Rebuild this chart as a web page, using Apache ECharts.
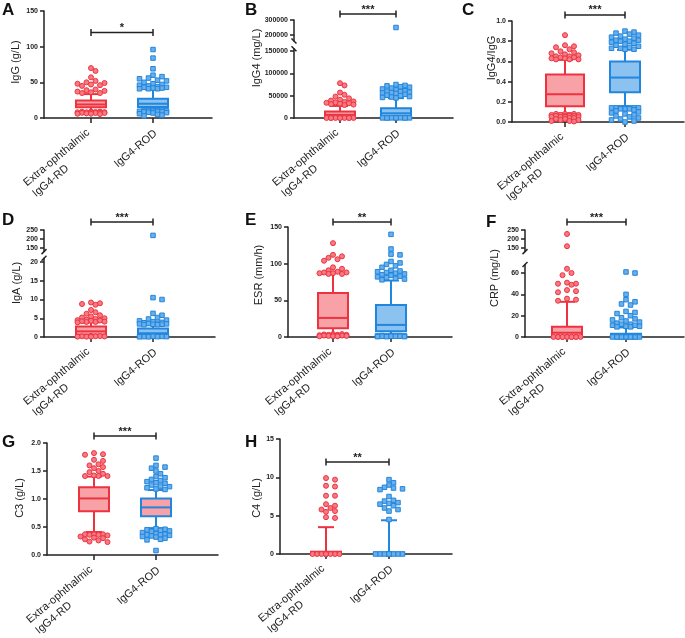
<!DOCTYPE html>
<html><head><meta charset="utf-8">
<script src="https://cdn.jsdelivr.net/npm/echarts@6/dist/echarts.min.js"></script>
<style>html,body{margin:0;padding:0;background:#fff}#c{width:685px;height:638px}</style>
</head><body><div id="c"></div>
<script>
// ---------------- DATA ----------------
const categories = ['Extra-ophthalmic\nIgG4-RD', 'IgG4-ROD'];
// box stats per group: [lower whisker, Q1, median, Q3, upper whisker]
const iggBox  = [[9.5, 15, 19, 24.5, 33.5], [10, 15.5, 20, 27, 40]];
const igg4Box = [[500, 2500, 7000, 14500, 27000], [800, 4000, 10500, 22000, 44500]];
const ratioBox = [[0.085, 0.155, 0.275, 0.47, 0.615], [0.145, 0.295, 0.44, 0.60, 0.715]];
const igaBox  = [[0.3, 0.6, 1.5, 2.8, 3.9], [0.2, 0.4, 1.0, 2.3, 3.2]];
const esrBox  = [[3, 12, 26, 60, 89], [2, 8, 16.5, 43.5, 77]];
const crpBox  = [[0.3, 0.8, 4, 9.5, 33], [0.1, 0.3, 1, 3, 9]];
const c3Box   = [[0.41, 0.78, 1.01, 1.21, 1.40], [0.48, 0.69, 0.85, 1.01, 1.16]];
const c4Box   = [[0, 0.05, 0.1, 0.3, 3.5], [0, 0.02, 0.05, 0.2, 4.4]];

// individual points shown outside the whiskers
const iggRD  = [70, 66, 57, 52, 50, 49, 48, 47, 46, 45, 40, 39, 38, 37, 36, 35, 35, 9, 9, 8.8, 8.5, 8.2, 8, 8, 7.8, 7.5, 7.2, 7, 7, 6.5, 6, 6, 5.5];
const iggROD = [96, 84, 69, 60, 58, 56, 55, 53, 52, 50, 48, 47, 46, 45, 44, 43, 43, 42, 42, 41, 41, 41, 11, 11, 10.5, 10.5, 10, 10, 9.5, 9.5, 9, 9, 8.5, 8, 7.5, 7, 6, 5, 4, 3];
const igg4RD  = [78000, 73000, 57000, 52000, 48000, 44000, 41000, 39000, 37000, 36000, 35000, 34000, 33000, 32000, 31000, 30000, 29000, 400, 300, 300, 200, 200, 150, 100, 100, 100, 50];
const igg4ROD = [250000, 75000, 73000, 72000, 70000, 69000, 67000, 65000, 63000, 61000, 60000, 59000, 58000, 57000, 56000, 55000, 53000, 51000, 50000, 48000, 47000, 46000, 45000, 700, 600, 500, 400, 300, 300, 200, 200, 100, 100];
const ratioRD  = [0.86, 0.76, 0.75, 0.74, 0.72, 0.70, 0.69, 0.68, 0.67, 0.66, 0.65, 0.65, 0.64, 0.64, 0.63, 0.63, 0.62, 0.62, 0.62, 0.08, 0.08, 0.08, 0.07, 0.07, 0.07, 0.07, 0.06, 0.06, 0.06, 0.06, 0.05, 0.05, 0.05, 0.05, 0.04, 0.04, 0.03, 0.03, 0.02, 0.02, 0.01, 0.01, 0.005];
const ratioROD = [0.90, 0.89, 0.88, 0.87, 0.86, 0.85, 0.84, 0.83, 0.82, 0.81, 0.81, 0.80, 0.80, 0.79, 0.78, 0.77, 0.76, 0.75, 0.74, 0.73, 0.73, 0.72, 0.72, 0.14, 0.14, 0.14, 0.14, 0.14, 0.14, 0.14, 0.14, 0.14, 0.14, 0.13, 0.13, 0.13, 0.12, 0.11, 0.10, 0.09, 0.08, 0.07, 0.06, 0.05, 0.04, 0.03, 0.02, 0.01, 0.0];
const igaRD  = [9.2, 9.0, 8.8, 8.6, 7.2, 6.6, 6.2, 5.8, 5.5, 5.2, 5.0, 4.8, 4.6, 4.5, 4.4, 4.3, 4.2, 4.1, 4.0, 4.0, 3.9, 0.3, 0.25, 0.2, 0.2, 0.15, 0.1, 0.1, 0.1];
const igaROD = [220, 10.5, 10.0, 6.3, 5.8, 5.2, 4.8, 4.5, 4.3, 4.1, 3.9, 3.8, 3.7, 3.6, 3.5, 3.5, 3.4, 3.4, 3.3, 3.3, 0.2, 0.15, 0.1, 0.1, 0.1, 0.05, 0.05];
const esrRD  = [128, 112, 110, 108, 106, 104, 95, 93, 91, 89, 88, 88, 87, 87, 86, 86, 4, 4, 3.5, 3, 3, 3, 2.5, 2.5, 2, 2, 2, 1.5, 1.5, 1, 1, 1];
const esrROD = [140, 120, 113, 112, 103, 101, 99, 97, 95, 91, 90, 89, 88, 87, 86, 85, 84, 83, 82, 81, 80, 79, 78, 2, 2, 2, 2, 1.5, 1.5, 1.5, 1, 1, 1, 1, 0.5, 0.5, 0.5];
const crpRD  = [228, 160, 64, 60, 58, 51, 50, 50, 49, 44, 43, 42, 36, 35, 34, 0.2, 0.2, 0.2, 0.1, 0.1, 0.1, 0.1, 0.05, 0.05, 0.05, 0.02, 0.02];
const crpROD = [61, 60, 40, 35, 33, 31, 30, 24, 23, 22, 20, 18, 17, 16, 15, 14, 13, 12, 12, 11, 11, 10, 10, 9.5, 9.5, 0.05, 0.05, 0.05, 0.04, 0.04, 0.03, 0.03, 0.02, 0.02, 0.01, 0.01, 0.01];
const c3RD  = [1.82, 1.80, 1.79, 1.70, 1.68, 1.62, 1.60, 1.57, 1.55, 1.50, 1.48, 1.45, 1.42, 1.41, 1.41, 1.41, 0.37, 0.37, 0.37, 0.36, 0.36, 0.35, 0.33, 0.31, 0.30, 0.28, 0.26, 0.24, 0.23];
const c3ROD = [1.73, 1.60, 1.57, 1.55, 1.50, 1.45, 1.40, 1.38, 1.35, 1.33, 1.31, 1.29, 1.28, 1.25, 1.23, 1.22, 1.20, 1.18, 1.17, 0.47, 0.46, 0.45, 0.44, 0.43, 0.42, 0.40, 0.38, 0.37, 0.36, 0.36, 0.35, 0.34, 0.33, 0.32, 0.30, 0.28, 0.27, 0.08];
const c4RD  = [9.9, 9.7, 8.9, 8.8, 7.6, 7.6, 6.5, 6.3, 6.0, 5.8, 5.6, 5.5, 4.8, 4.7, 0, 0, 0, 0, 0, 0, 0, 0, 0, 0, 0, 0];
const c4ROD = [9.7, 9.3, 9.0, 8.7, 8.6, 8.5, 8.4, 7.5, 7.0, 6.9, 6.7, 6.6, 6.5, 6.3, 6.0, 5.8, 5.6, 4.5, 0, 0, 0, 0, 0, 0, 0, 0, 0, 0, 0, 0, 0, 0];

// tick labels
const iggTicks = [0, 50, 100, 150];
const igg4TicksLow = [0, 50000, 100000, 150000];
const igg4TicksHigh = [200000, 300000];
const ratioTicks = [0, 0.2, 0.4, 0.6, 0.8, 1.0];
const igaTicksLow = [0, 5, 10, 15, 20];
const igaTicksHigh = [150, 200, 250];
const esrTicks = [0, 50, 100, 150];
const crpTicksLow = [0, 20, 40, 60];
const crpTicksHigh = [150, 200, 250];
const c3Ticks = [0, 0.5, 1.0, 1.5, 2.0];
const c4Ticks = [0, 5, 10, 15];

const yNames = ['IgG (g/L)', 'IgG4 (mg/L)', 'IgG4/IgG', 'IgA (g/L)', 'ESR (mm/h)', 'CRP (mg/L)', 'C3 (g/L)', 'C4 (g/L)'];
const sigLabels = ['*', '***', '***', '***', '**', '***', '***', '**'];

// ---------------- LAYOUT ----------------
const FONT = '"Liberation Sans", Arial, Helvetica, sans-serif';
const RED = '#ee3340', RED_FILL = '#f8a1a7', RED_PT = '#f57a84';
const BLUE = '#2186dd', BLUE_FILL = '#8cc2f0', BLUE_PT = '#6aaeea';
const AX = '#222';

const panels = [
  {letter:'A', L:[2,2], box:iggBox, pts:[iggRD, iggROD], ax:44, xe:212, c:[91,153], name:[16,62], sigY:120,
   segs:[{min:0,max:150,top:11,bottom:118,ticks:iggTicks,dec:0}]},
  {letter:'B', L:[245,2], box:igg4Box, pts:[igg4RD, igg4ROD], ax:294, xe:453, c:[340,396], name:[257,58], sigY:340000,
   segs:[{min:160000,max:300000,top:20,bottom:41,ticks:igg4TicksHigh,dec:0},{min:0,max:155000,top:48.8,bottom:118,ticks:igg4TicksLow,dec:0}], brk:'\\'},
  {letter:'C', L:[462,2], box:ratioBox, pts:[ratioRD, ratioROD], ax:512, xe:684, c:[565,625], name:[492,58], sigY:1.06, boxHalf:[19,15],
   segs:[{min:0,max:1,top:21,bottom:122,ticks:ratioTicks,dec:1}]},
  {letter:'D', L:[2,212], box:igaBox, pts:[igaRD, igaROD], ax:44, xe:215, c:[91,153], name:[17,283], sigY:294,
   segs:[{min:130,max:250,top:230,bottom:251.6,ticks:igaTicksHigh,dec:0},{min:0,max:21,top:258.25,bottom:337,ticks:igaTicksLow,dec:0}], brk:'/'},
  {letter:'E', L:[245,212], box:esrBox, pts:[esrRD, esrROD], ax:288, xe:452, c:[333,391], name:[259,275], sigY:156.8,
   segs:[{min:0,max:150,top:227,bottom:337,ticks:esrTicks,dec:0}]},
  {letter:'F', L:[486,214], box:crpBox, pts:[crpRD, crpROD], ax:525, xe:684, c:[567,626], name:[495,278], sigY:294,
   segs:[{min:130,max:250,top:230,bottom:251.6,ticks:crpTicksHigh,dec:0},{min:0,max:68,top:264.5,bottom:337,ticks:crpTicksLow,dec:0}], brk:'/'},
  {letter:'G', L:[2,434], box:c3Box, pts:[c3RD, c3ROD], ax:47, xe:218, c:[94,156], name:[20,498], sigY:2.125, rodFill:RED_FILL,
   segs:[{min:0,max:2,top:443,bottom:555,ticks:c3Ticks,dec:1}]},
  {letter:'H', L:[245,434], box:c4Box, pts:[c4RD, c4ROD], ax:280, xe:452, c:[326,389], name:[257,498], sigY:12,
   segs:[{min:0,max:15,top:439,bottom:554,ticks:c4Ticks,dec:0}]}
];

const SYM = 5, HALFW = 15, BOX_HALF = 15, CAP_HALF = 8;

function swarm(vals, pxPerUnit) {
  const order = vals.map((v, i) => i).sort((a, b) => vals[b] - vals[a]);
  const placed = [], off = new Array(vals.length);
  const step = SYM * 0.9;
  const cands = [0];
  for (let k = 1; k * step <= HALFW; k++) cands.push(k * step, -k * step);
  order.forEach(i => {
    const py = vals[i] * pxPerUnit;
    let best = 0, bestScore = -Infinity;
    for (const c of cands) {
      let md = Infinity;
      for (const p of placed) { const d = Math.hypot(p[0] - c, p[1] - py); if (d < md) md = d; }
      if (md >= SYM) { best = c; break; }
      if (md > bestScore) { bestScore = md; best = c; }
    }
    placed.push([best, py]); off[i] = best;
  });
  return off;
}

const grid = [], xAxis = [], yAxis = [], series = [], graphic = [];

function fmt(v, dec) { return dec ? v.toFixed(dec) : String(v); }

panels.forEach((p, pi) => {
  const span = p.c[1] - p.c[0];
  const xmin = 1 - (p.c[0] - p.ax) / span, xmax = 2 + (p.xe - p.c[1]) / span;
  const segIdx = [];
  p.segs.forEach((s, si) => {
    const isBottom = si === p.segs.length - 1;
    const gi = grid.length;
    grid.push({left: p.ax, top: s.top, width: p.xe - p.ax, height: s.bottom - s.top, containLabel: false, outerBoundsMode: 'none'});
    xAxis.push({gridIndex: gi, type: 'value', min: xmin, max: xmax,
      axisLine: {show: isBottom, onZero: false, lineStyle: {color: AX, width: 1.5}},
      axisTick: {show: isBottom, customValues: [1, 2], length: 5, lineStyle: {color: AX, width: 1.5}},
      axisLabel: {show: isBottom, customValues: [1, 2], rotate: 40, margin: 11, color: AX, fontSize: 11, fontFamily: FONT,
        formatter: v => {
          const lines = categories[v - 1].split('\n');
          return lines.length > 1 ? ['{w| }'].concat(lines.map(t => '{w|' + t + '}')).join('\n') : '{n|' + lines[0] + '}';
        },
        rich: {w: {width: 86, align: 'left', fontSize: 11, fontFamily: FONT, color: AX, lineHeight: 14},
               n: {fontSize: 11, fontFamily: FONT, color: AX, lineHeight: 14, padding: [8, 0, 0, 0]}}},
      splitLine: {show: false}});
    yAxis.push({gridIndex: gi, type: 'value', min: s.min, max: s.max,
      axisLine: {show: true, onZero: false, lineStyle: {color: AX, width: 1.5}},
      axisTick: {show: true, customValues: s.ticks, length: 4, lineStyle: {color: AX, width: 1.5}},
      axisLabel: {customValues: s.ticks, margin: 6, color: AX, fontSize: 7, fontWeight: 'bold', fontFamily: FONT,
        formatter: v => fmt(v, s.dec)},
      splitLine: {show: false}});
    segIdx.push(gi);
  });
  const bottomGi = segIdx[segIdx.length - 1], topGi = segIdx[0];
  const colors = [[RED, RED_FILL], [BLUE, p.rodFill || BLUE_FILL]];
  const halves = p.boxHalf || [BOX_HALF, BOX_HALF];
  // boxes
  series.push({type: 'custom', xAxisIndex: bottomGi, yAxisIndex: bottomGi, z: 2, clip: false,
    encode: {x: 0, y: [1, 2, 3, 4, 5]},
    data: p.box.map((b, k) => [k + 1, ...b]),
    renderItem: (params, api) => {
      const x = api.value(0);
      const [cx, yLo] = api.coord([x, api.value(1)]);
      const yQ1 = api.coord([x, api.value(2)])[1], yMd = api.coord([x, api.value(3)])[1];
      const yQ3 = api.coord([x, api.value(4)])[1], yHi = api.coord([x, api.value(5)])[1];
      const [col, fill] = colors[params.dataIndex];
      const hb = halves[params.dataIndex];
      const st = {stroke: col, lineWidth: 2};
      return {type: 'group', children: [
        {type: 'line', shape: {x1: cx, y1: yHi, x2: cx, y2: yQ3}, style: st},
        {type: 'line', shape: {x1: cx, y1: yQ1, x2: cx, y2: yLo}, style: st},
        {type: 'line', shape: {x1: cx - CAP_HALF, y1: yHi, x2: cx + CAP_HALF, y2: yHi}, style: st},
        {type: 'line', shape: {x1: cx - CAP_HALF, y1: yLo, x2: cx + CAP_HALF, y2: yLo}, style: st},
        {type: 'rect', shape: {x: cx - hb, y: yQ3, width: 2 * hb, height: Math.max(yQ1 - yQ3, 1.5)}, style: {fill: fill, stroke: col, lineWidth: 2}},
        {type: 'line', shape: {x1: cx - hb, y1: yMd, x2: cx + hb, y2: yMd}, style: st}
      ]};
    }});
  // points
  p.pts.forEach((vals, g) => {
    p.segs.forEach((s, si) => {
      const isBottom = si === p.segs.length - 1;
      const inSeg = vals.filter(v => isBottom ? v <= s.max : (v > p.segs[p.segs.length - 1].max));
      if (!inSeg.length) return;
      const ppu = (s.bottom - s.top) / (s.max - s.min);
      const off = swarm(inSeg.map(v => v - s.min), ppu);
      series.push({type: 'scatter', xAxisIndex: segIdx[si], yAxisIndex: segIdx[si], z: 3, clip: false,
        symbol: g === 0 ? 'circle' : 'rect', symbolSize: g === 0 ? SYM : SYM - 0.5,
        itemStyle: {color: g === 0 ? RED_PT : BLUE_PT, borderColor: g === 0 ? RED : BLUE, borderWidth: 1, opacity: 1},
        emphasis: {disabled: true},
        data: inSeg.map((v, k) => [g + 1 + off[k] / span, v])});
    });
  });
  // significance bar
  series.push({type: 'custom', xAxisIndex: topGi, yAxisIndex: topGi, z: 4, clip: false,
    encode: {x: [0, 1], y: 2},
    data: [[1, 2, p.sigY]],
    renderItem: (params, api) => {
      const a = api.coord([api.value(0), api.value(2)]), b = api.coord([api.value(1), api.value(2)]);
      const st = {stroke: AX, lineWidth: 1.5};
      return {type: 'group', children: [
        {type: 'line', shape: {x1: a[0], y1: a[1], x2: b[0], y2: b[1]}, style: st},
        {type: 'line', shape: {x1: a[0], y1: a[1] - 3.5, x2: a[0], y2: a[1] + 3.5}, style: st},
        {type: 'line', shape: {x1: b[0], y1: b[1] - 3.5, x2: b[0], y2: b[1] + 3.5}, style: st},
        {type: 'text', x: (a[0] + b[0]) / 2, y: a[1] + 1, style: {text: sigLabels[pi], fill: AX, font: 'bold 11px ' + FONT, align: 'center', verticalAlign: 'bottom'}}
      ]};
    }});
  // panel letter & y name
  graphic.push({type: 'text', left: p.L[0], top: p.L[1], style: {text: p.letter, fill: '#111', font: 'bold 17px ' + FONT}});
  graphic.push({type: 'text', x: p.name[0], y: p.name[1], rotation: Math.PI / 2,
    style: {text: yNames[pi], fill: AX, font: '11px ' + FONT, align: 'center', verticalAlign: 'middle'}});
  // axis break marks
  if (p.segs.length > 1) {
    const yb = [p.segs[0].bottom, p.segs[1].top];
    yb.forEach(y => {
      const d = p.brk === '/' ? -1 : 1;
      graphic.push({type: 'line', shape: {x1: p.ax - 2.5, y1: y - 2.5 * d, x2: p.ax + 2.5, y2: y + 2.5 * d},
        style: {stroke: AX, lineWidth: 1.5}});
    });
  }
});

const chart = echarts.init(document.getElementById('c'), null, {renderer: 'canvas'});
chart.setOption({animation: false, backgroundColor: '#fff', grid, xAxis, yAxis, series, graphic});
</script></body></html>
